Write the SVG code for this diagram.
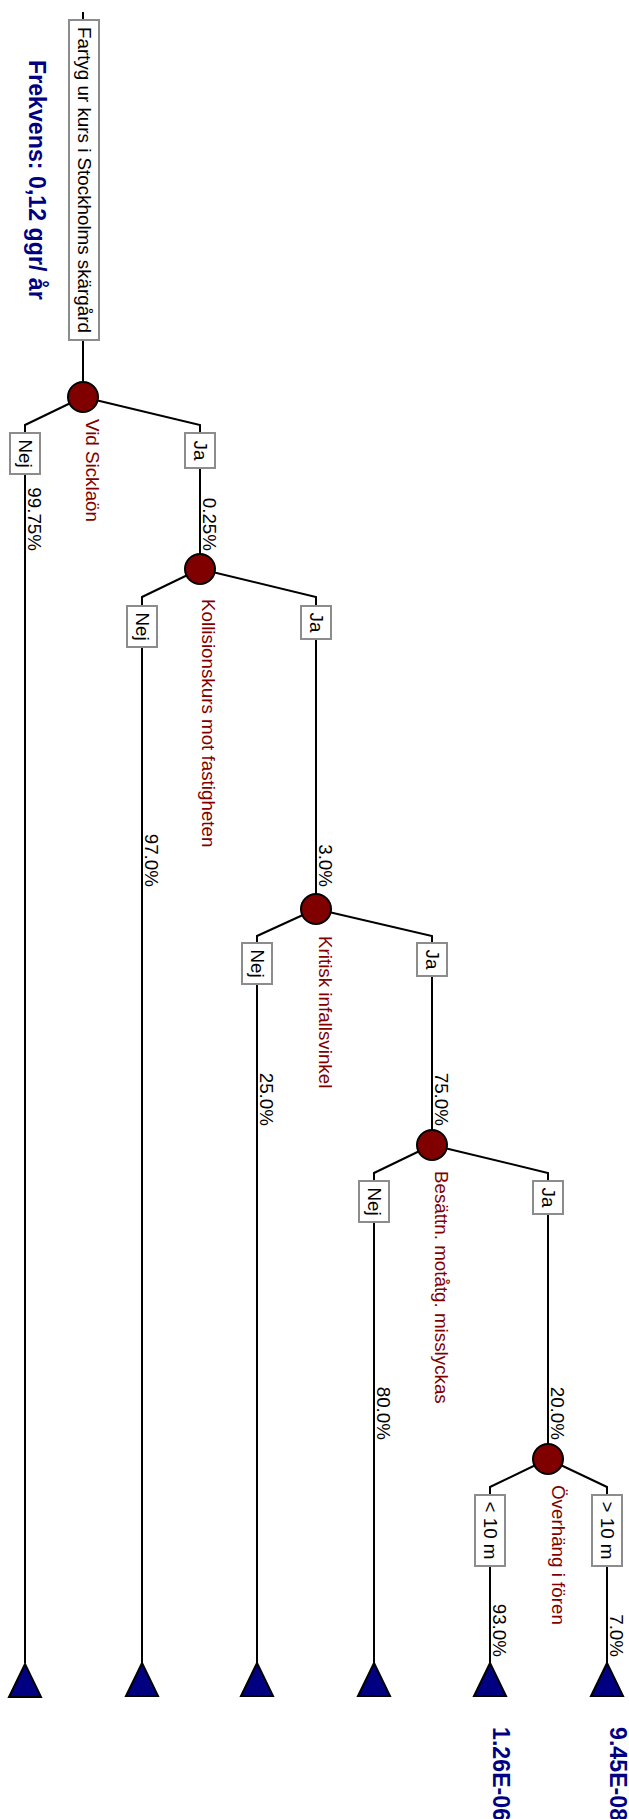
<svg xmlns="http://www.w3.org/2000/svg" width="629" height="1819" viewBox="0 0 629 1819">
<style>
.ln{fill:none;stroke:#000;stroke-width:2}
.box{fill:#fff;stroke:#8c8c8c;stroke-width:2}
.ev{fill:#800000;stroke:#000;stroke-width:2}
.end{fill:#000080;stroke:#000;stroke-width:2}
text{font-family:"Liberation Sans",Arial,sans-serif;font-size:18.8px}
.bt{fill:#000;text-anchor:middle}
.pr{fill:#000;text-anchor:end}
.el{fill:#800000}
.big{fill:#000080;font-weight:bold;font-size:23.2px}
</style>
<rect width="629" height="1819" fill="#fff"/>
<text class="big" transform="translate(28.5,60) rotate(90)">Frekvens: 0,12 ggr/ år</text>
<g id="connectors">
<path class="ln" d="M83 12V20M83 340V397"/>
<path class="ln" d="M83 397L25 425V433M83 397L200 425V433M25 474V1663M200 468V569"/>
<path class="ln" d="M200 569L142 597V606M200 569L316 597V606M142 647V1663M316 639V909"/>
<path class="ln" d="M316 909L257 936V943M316 909L432 936V943M257 984V1663M432 976V1145"/>
<path class="ln" d="M432 1145L374 1173V1181M432 1145L548 1173V1181M374 1222V1663M548 1214V1459"/>
<path class="ln" d="M548 1459L490 1487V1495M548 1459L607 1487V1495M490 1566V1663M607 1566V1663"/>
</g>
<g id="probabilities">
<text class="pr" transform="translate(28,551) rotate(90)">99.75%</text>
<text class="pr" transform="translate(203,551) rotate(90)">0.25%</text>
<text class="pr" transform="translate(145,887) rotate(90)">97.0%</text>
<text class="pr" transform="translate(319,887) rotate(90)">3.0%</text>
<text class="pr" transform="translate(260,1126) rotate(90)">25.0%</text>
<text class="pr" transform="translate(435,1126) rotate(90)">75.0%</text>
<text class="pr" transform="translate(377,1440) rotate(90)">80.0%</text>
<text class="pr" transform="translate(551,1440) rotate(90)">20.0%</text>
<text class="pr" transform="translate(493,1657) rotate(90)">93.0%</text>
<text class="pr" transform="translate(610,1657) rotate(90)">7.0%</text>
</g>
<g id="start">
<rect class="box" x="69" y="20" width="30" height="320"/>
<text class="bt" transform="translate(77.5,180) rotate(90)">Fartyg ur kurs i Stockholms skärgård</text>
</g>
<g id="e1">
<circle class="ev" cx="83" cy="397" r="15"/>
<text class="el" transform="translate(86,419) rotate(90)">Vid Sicklaön</text>
</g>
<g id="e1-nej"><rect class="box" x="10" y="433" width="30" height="41"/><text class="bt" transform="translate(18.5,453.5) rotate(90)">Nej</text></g>
<g id="e1-ja"><rect class="box" x="185" y="433" width="30" height="35"/><text class="bt" transform="translate(193.5,450.5) rotate(90)">Ja</text></g>
<g id="e2">
<circle class="ev" cx="200" cy="569" r="15"/>
<text class="el" transform="translate(202,599) rotate(90)">Kollisionskurs mot fastigheten</text>
</g>
<g id="e2-nej"><rect class="box" x="127" y="606" width="30" height="41"/><text class="bt" transform="translate(135.5,626.5) rotate(90)">Nej</text></g>
<g id="e2-ja"><rect class="box" x="301" y="606" width="30" height="33"/><text class="bt" transform="translate(309.5,622.5) rotate(90)">Ja</text></g>
<g id="e3">
<circle class="ev" cx="316" cy="909" r="15"/>
<text class="el" transform="translate(319,936) rotate(90)">Kritisk infallsvinkel</text>
</g>
<g id="e3-nej"><rect class="box" x="242" y="943" width="30" height="41"/><text class="bt" transform="translate(250.5,963.5) rotate(90)">Nej</text></g>
<g id="e3-ja"><rect class="box" x="417" y="943" width="30" height="33"/><text class="bt" transform="translate(425.5,959.5) rotate(90)">Ja</text></g>
<g id="e4">
<circle class="ev" cx="432" cy="1145" r="15"/>
<text class="el" transform="translate(435,1171) rotate(90)">Besättn. motåtg. misslyckas</text>
</g>
<g id="e4-nej"><rect class="box" x="359" y="1181" width="30" height="41"/><text class="bt" transform="translate(367.5,1201.5) rotate(90)">Nej</text></g>
<g id="e4-ja"><rect class="box" x="533" y="1181" width="30" height="33"/><text class="bt" transform="translate(541.5,1197.5) rotate(90)">Ja</text></g>
<g id="e5">
<circle class="ev" cx="548" cy="1459" r="15"/>
<text class="el" transform="translate(552,1485) rotate(90)">Överhäng i fören</text>
</g>
<g id="e5-lt"><rect class="box" x="475" y="1495" width="30" height="71"/><text class="bt" transform="translate(483.5,1530.5) rotate(90)">&lt; 10 m</text></g>
<g id="e5-gt"><rect class="box" x="592" y="1495" width="30" height="71"/><text class="bt" transform="translate(600.5,1530.5) rotate(90)">&gt; 10 m</text></g>
<g id="end1"><path class="end" d="M25 1664L41 1697H9Z"/></g>
<g id="end2"><path class="end" d="M142 1663L158 1696H126Z"/></g>
<g id="end3"><path class="end" d="M257 1663L273 1696H241Z"/></g>
<g id="end4"><path class="end" d="M374 1663L390 1696H358Z"/></g>
<g id="end5"><path class="end" d="M490 1663L506 1696H474Z"/>
<text class="big" transform="translate(493,1727) rotate(90)">1.26E-06</text></g>
<g id="end6"><path class="end" d="M607 1663L623 1696H591Z"/>
<text class="big" transform="translate(610,1727) rotate(90)">9.45E-08</text></g>
</svg>
